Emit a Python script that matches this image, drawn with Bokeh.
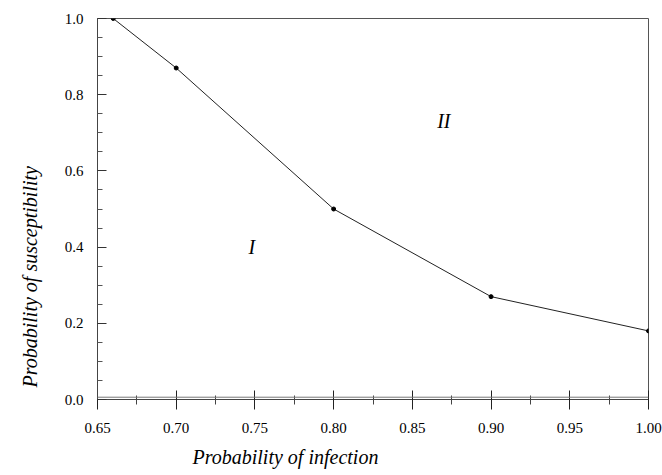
from bokeh.plotting import figure
from bokeh.models import Range1d, FixedTicker, Span, Title
from bokeh.core.properties import value
from bokeh.embed import file_html
from bokeh.resources import INLINE

# ---- data ----
infection = [0.66, 0.70, 0.80, 0.90, 1.00]
susceptibility = [1.00, 0.87, 0.50, 0.27, 0.18]

x_ticks = [0.65, 0.70, 0.75, 0.80, 0.85, 0.90, 0.95, 1.00]
x_minor = [0.675, 0.725, 0.775, 0.825, 0.875, 0.925, 0.975]
x_tick_labels = ["0.65", "0.70", "0.75", "0.80", "0.85", "0.90", "0.95", "1.00"]

y_ticks = [0.0, 0.2, 0.4, 0.6, 0.8, 1.0]
y_minor = [0.05, 0.10, 0.15, 0.25, 0.30, 0.35, 0.45, 0.50, 0.55,
           0.65, 0.70, 0.75, 0.85, 0.90, 0.95]
y_tick_labels = ["0.0", "0.2", "0.4", "0.6", "0.8", "1.0"]

region_names = ["I", "II"]
region_x = [0.748, 0.870]
region_y = [0.40, 0.732]

x_title = "Probability of infection"
y_title = "Probability of susceptibility"

SERIF = "Liberation Serif"

p = figure(width=662, height=475, output_backend="svg", toolbar_location=None,
           x_range=Range1d(0.65, 1.00), y_range=Range1d(0.0, 1.0),
           min_border_left=97, min_border_right=14, min_border_top=18,
           min_border_bottom=76)
p.grid.visible = False
p.background_fill_color = "white"
p.border_fill_color = "white"
p.outline_line_color = "#555555"
p.outline_line_width = 1

# x axis
xa = p.xaxis[0]
xa.ticker = FixedTicker(ticks=x_ticks, minor_ticks=x_minor)
xa.major_label_overrides = {t: l for t, l in zip(x_ticks, x_tick_labels)}
xa.major_tick_in = 9
xa.major_tick_out = 10
xa.minor_tick_in = 4
xa.minor_tick_out = 5
xa.major_tick_line_color = "#222222"
xa.minor_tick_line_color = "#444444"
xa.axis_line_color = "#444444"
xa.major_label_text_font = SERIF
xa.major_label_text_font_size = "15px"
xa.major_label_text_color = "black"
xa.major_label_standoff = 13

# y axis
ya = p.yaxis[0]
ya.ticker = FixedTicker(ticks=y_ticks, minor_ticks=y_minor)
ya.major_label_overrides = {t: l for t, l in zip(y_ticks, y_tick_labels)}
ya.major_tick_in = 9
ya.major_tick_out = 0
ya.minor_tick_in = 5
ya.minor_tick_out = 0
ya.major_tick_line_color = "#333333"
ya.minor_tick_line_color = "#555555"
ya.axis_line_color = "#444444"
ya.major_label_text_font = SERIF
ya.major_label_text_font_size = "15px"
ya.major_label_text_color = "black"
ya.major_label_standoff = 14

# double baseline at zero
p.add_layout(Span(location=0.006, dimension="width", line_color="#777777", line_width=1))

# curve
p.line(infection, susceptibility, line_color="#222222", line_width=1)
p.scatter(infection, susceptibility, size=4, color="black")

# region labels
p.text(x=region_x, y=region_y, text=region_names, text_font=value(SERIF),
       text_font_style="italic", text_font_size="20px", text_align="center",
       text_baseline="middle", text_color="black")

# axis titles
p.add_layout(Title(text=x_title, align="left", offset=95, standoff=16,
                   text_font=SERIF, text_font_style="italic",
                   text_font_size="20px", text_color="black"), "below")
p.add_layout(Title(text=y_title, align="left", offset=12, standoff=37,
                   vertical_align="top",
                   text_font=SERIF, text_font_style="italic",
                   text_font_size="20px", text_color="black"), "left")

open("out.html", "w").write(file_html(p, INLINE))
